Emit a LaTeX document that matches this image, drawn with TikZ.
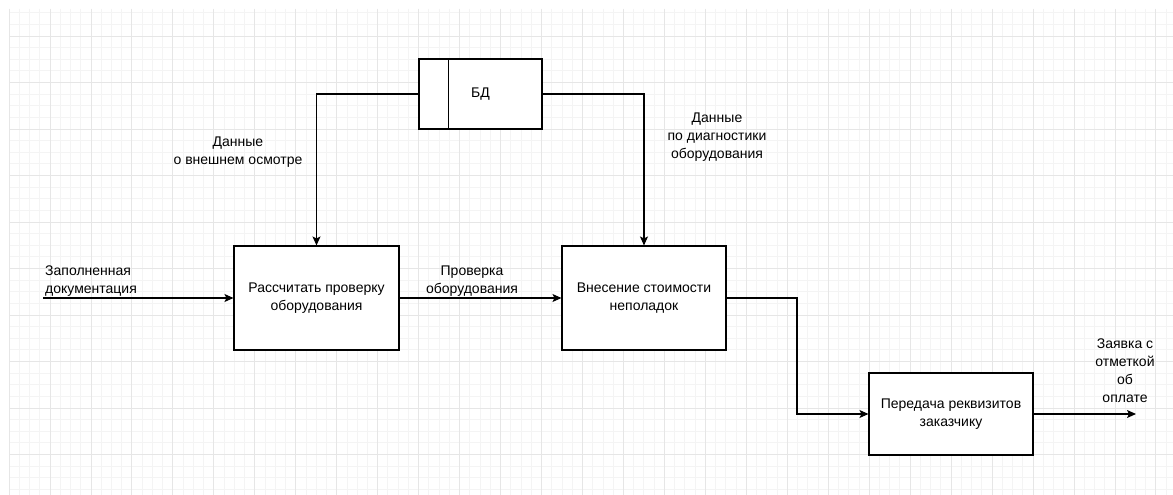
\documentclass[tikz,border=0pt]{standalone}
\usepackage{fontspec}
\setmainfont{Liberation Sans}
\usetikzlibrary{arrows.meta}
\definecolor{gridminor}{HTML}{F4F4F4}
\definecolor{gridmajor}{HTML}{E6E6E6}

\begin{document}
\begin{tikzpicture}[x=1pt,y=-1pt]
        \tikzset{box/.style={draw, line width=1.1pt, fill=white, align=center, inner sep=0pt, font=\fontsize{14}{18}\selectfont}}
        \tikzset{flow/.style={-{Stealth[length=9pt, width=8pt, inset=2pt]}, line width=1.1pt}}
        \tikzset{lbl/.style={align=center, inner sep=0pt, font=\fontsize{14}{18}\selectfont}}
        \tikzset{minorline/.style={gridminor, line width=0.8pt}, majorline/.style={gridmajor, line width=0.8pt}}

        \useasboundingbox[fill=white] (0,0) rectangle (1173,495);
        % background grid
        \foreach \i in {0,...,113} \draw[minorline] ({9+10.24*\i},9) -- ({9+10.24*\i},495);
        \foreach \j in {-2,...,39} \draw[minorline] (9,{36+11.625*\j}) -- (1173,{36+11.625*\j});
        \foreach \i in {0,...,28} \draw[majorline] ({9+40.96*\i},9) -- ({9+40.96*\i},495);
        \foreach \j in {0,...,9} \draw[majorline] (9,{36+46.5*\j}) -- (1173,{36+46.5*\j});

        % blocks
        \node[box, minimum width=123, minimum height=70] (bd) at (480.5,94) {БД};
        \draw[line width=1.1pt] ([xshift=30pt]bd.north west) -- ([xshift=30pt]bd.south west);
        \node[box, minimum width=165, minimum height=104] (calc) at (316.5,298) {Рассчитать проверку\\оборудования};
        \node[box, minimum width=164, minimum height=104] (cost) at (644,298) {Внесение стоимости\\неполадок};
        \node[box, minimum width=164, minimum height=82] (send) at (951,414) {Передача реквизитов\\заказчику};

        \coordinate (in) at (43,298);
        \coordinate (bend) at (797,298);
        \coordinate (out) at (1136,414);

        % arrows
        \draw[flow] (bd.west) -| (calc.north);
        \draw[flow] (bd.east) -| (cost.north);
        \draw[flow] (in) -- (calc.west);
        \draw[flow] (calc.east) -- (cost.west);
        \draw[flow] (cost.east) -- (bend) |- (send.west);
        \draw[flow] (send.east) -- (out);

        % labels
        \node[lbl, anchor=west, align=left] (inlbl) at (45,281) {Заполненная\\документация};
        \node[lbl] (checklbl) at (472,281) {Проверка\\оборудования};
        \node[lbl] (lookl) at (238,152) {Данные\\о внешнем осмотре};
        \node[lbl] (diagl) at (717,137) {Данные\\по диагностики\\оборудования};
        \node[lbl] (outlbl) at (1125,371) {Заявка с\\отметкой\\об\\оплате};
\end{tikzpicture}
\end{document}
